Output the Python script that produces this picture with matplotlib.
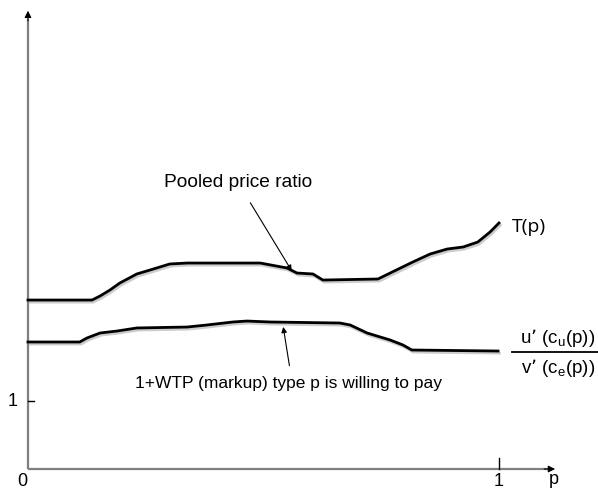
import numpy as np
import matplotlib
matplotlib.use("Agg")
import matplotlib.pyplot as plt
import matplotlib.patheffects as pe

plt.rcParams["font.family"] = ["Liberation Sans", "DejaVu Sans"]

# upper curve: pooled price ratio T(p)
p_upper = [0.0, 0.136, 0.153, 0.174, 0.195, 0.231, 0.259, 0.301, 0.338, 0.493,
           0.550, 0.571, 0.605, 0.626, 0.743, 0.769, 0.817, 0.854, 0.890, 0.924,
           0.955, 0.981, 1.0]
t_upper = [2.485, 2.485, 2.544, 2.632, 2.735, 2.868, 2.926, 3.015, 3.029, 3.029,
           2.956, 2.882, 2.868, 2.779, 2.794, 2.882, 3.044, 3.162, 3.235, 3.265,
           3.338, 3.485, 3.618]

# lower curve: u'(c_u(p)) / v'(c_e(p))
p_lower = [0.0, 0.110, 0.125, 0.153, 0.189, 0.231, 0.338, 0.380, 0.435, 0.465,
           0.514, 0.662, 0.684, 0.720, 0.769, 0.796, 0.815, 0.998]
m_lower = [1.868, 1.868, 1.926, 2.0, 2.029, 2.074, 2.088, 2.118, 2.162, 2.176,
           2.162, 2.147, 2.118, 2.0, 1.897, 1.824, 1.75, 1.735]

fig = plt.figure(figsize=(5.98, 4.92), dpi=100, facecolor="white")
ax = fig.add_axes([0, 0, 1, 1])
ax.set_xlim(-0.0594, 1.2102)
ax.set_ylim(-0.338, 6.897)
ax.axis("off")

axis_col = "#7f7f7f"
# axes with arrowheads
ax.plot([0, 0], [0, 6.62], color=axis_col, lw=1.6, solid_capstyle="butt")
ax.plot([0, 1.105], [0, 0], color=axis_col, lw=1.6, solid_capstyle="butt")
ax.annotate("", xy=(0, 6.78), xytext=(0, 6.55),
            arrowprops=dict(arrowstyle="-|>", color="black", lw=0.8,
                            mutation_scale=10))
ax.annotate("", xy=(1.125, 0), xytext=(1.09, 0),
            arrowprops=dict(arrowstyle="-|>", color="black", lw=0.8,
                            mutation_scale=10))

# ticks
ax.plot([1, 1], [0, 0.16], color="black", lw=1)
ax.plot([0, 0.012], [1, 1], color="black", lw=1)
ax.text(-0.033, 1, "1", fontsize=13, ha="center", va="center")
ax.text(-0.013, -0.19, "0", fontsize=13, ha="center", va="center")
ax.text(1.0, -0.19, "1", fontsize=13, ha="center", va="center")
ax.text(1.116, -0.16, "p", fontsize=13, ha="center", va="center")

shadow = [pe.SimpleLineShadow(offset=(1, -1.5), shadow_color="gray", alpha=0.4),
          pe.Normal()]
ax.plot(p_upper, t_upper, color="black", lw=2, path_effects=shadow)
ax.plot(p_lower, m_lower, color="black", lw=2, path_effects=shadow)

ax.text(1.027, 3.56, "T(p)", fontsize=14, ha="left", va="center",
        family=["Open Sans", "DejaVu Sans"])

# fraction label for lower curve
ax.plot([1.028, 1.21], [1.72, 1.72], color="black", lw=1.3)
ax.text(1.125, 1.93, r"u’ (c$_\mathregular{u}$(p))", fontsize=13.5,
        ha="center", va="center")
ax.text(1.125, 1.48, r"v’ (c$_\mathregular{e}$(p))", fontsize=13.5,
        ha="center", va="center")

# annotations
ax.text(0.446, 4.21, "Pooled price ratio", fontsize=13.8, ha="center",
        va="center")
ax.annotate("", xy=(0.563, 2.88), xytext=(0.469, 3.95),
            arrowprops=dict(arrowstyle="-|>", color="black", lw=0.8,
                            mutation_scale=8))
ax.text(0.554, 1.26, "1+WTP (markup) type p is willing to pay", fontsize=12.5,
        ha="center", va="center")
ax.annotate("", xy=(0.541, 2.13), xytext=(0.556, 1.48),
            arrowprops=dict(arrowstyle="-|>", color="black", lw=0.8,
                            mutation_scale=8))

fig.savefig("out.png", dpi=100, facecolor="white")
